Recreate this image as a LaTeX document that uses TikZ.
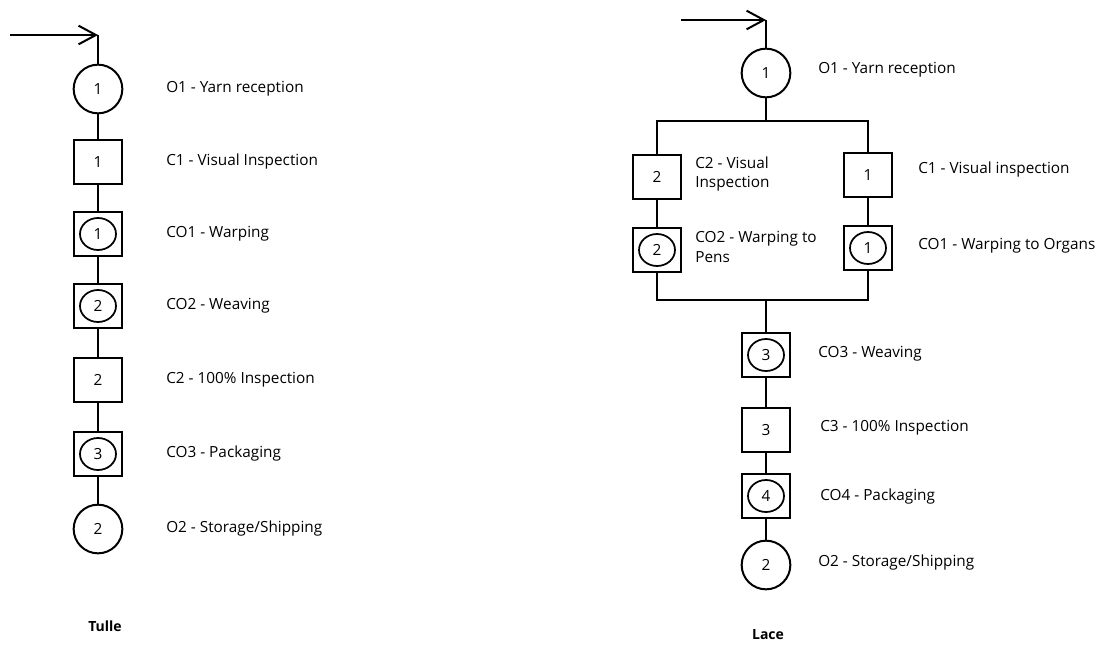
\documentclass[tikz,border=0pt]{standalone}
\usepackage{fontspec}
\setmainfont{Open Sans}
\usetikzlibrary{arrows.meta}
\tikzset{
  flow/.style={line width=1.5pt},
  opcirc/.style={draw, circle, line width=1.5pt, minimum size=36.5pt, inner sep=0pt, font=\fontsize{11.5}{13}\selectfont},
  ctrlbox/.style={draw, rectangle, line width=1.5pt, minimum width=36.5pt, minimum height=32.5pt, inner sep=0pt, font=\fontsize{11.5}{13}\selectfont},
  combo/.style={ctrlbox, path picture={\draw[line width=1.3pt] (path picture bounding box.center) ellipse (13.5pt and 12pt);}},
  steplabel/.style={anchor=west, inner sep=0pt, align=left, font=\fontsize{11.5}{14.5}\selectfont},
  title/.style={inner sep=0pt, font=\fontsize{10.5}{12}\selectfont\bfseries},
  entry/.style={line width=1.5pt, -{Straight Barb[length=13pt,width=14pt,line width=1.5pt]}},
}
\begin{document}
\begin{tikzpicture}[x=0.75pt, y=-0.75pt]
  \fill[white] (0,0) rectangle (1102,646);
  \useasboundingbox (0,0) rectangle (1102,646);

  % Tulle
  \foreach \id/\y/\kind/\num/\txt in {t1/89/opcirc/1/{O1 - Yarn reception},
      t2/162/ctrlbox/1/{C1 - Visual Inspection}, t3/234/combo/1/{CO1 - Warping},
      t4/306/combo/2/{CO2 - Weaving}, t5/380/ctrlbox/2/{C2 - 100\% Inspection},
      t6/454/combo/3/{CO3 - Packaging}, t7/529/opcirc/2/{O2 - Storage/Shipping}} {
    \node[\kind] (\id) at (98,\y) {\num};
    \node[steplabel] (\id-lbl) at (166,\y) {\txt};
  }
  \coordinate (tstart) at (10,35);
  \coordinate (tin) at (98,35);
  \draw[entry] (tstart) -- (tin);
  \draw[flow] (tin) -- (t1);
  \foreach \a/\b in {t1/t2, t2/t3, t3/t4, t4/t5, t5/t6, t6/t7}
    \draw[flow] (\a) -- (\b);
  \node[title] (tulle) at (105,626) {Tulle};

  % Lace
  \node[opcirc] (l1) at (766,73) {1};
  \node[ctrlbox] (lc2) at (657,177) {2};
  \node[combo] (lco2) at (657,250) {2};
  \node[ctrlbox] (lc1) at (868,175) {1};
  \node[combo] (lco1) at (868,248) {1};
  \node[combo] (lco3) at (766,355) {3};
  \node[ctrlbox] (lc3) at (766,430) {3};
  \node[combo] (lco4) at (766,496) {4};
  \node[opcirc] (l2) at (766,565) {2};

  \node[steplabel] (l1-lbl) at (818,70) {O1 - Yarn reception};
  \node[steplabel] (lc2-lbl) at (695,174) {C2 - Visual\\Inspection};
  \node[steplabel] (lco2-lbl) at (695,247) {CO2 - Warping to\\Pens};
  \node[steplabel] (lc1-lbl) at (918,170) {C1 - Visual inspection};
  \node[steplabel] (lco1-lbl) at (918,246) {CO1 - Warping to Organs};
  \node[steplabel] (lco3-lbl) at (818,354) {CO3 - Weaving};
  \node[steplabel] (lc3-lbl) at (820,428) {C3 - 100\% Inspection};
  \node[steplabel] (lco4-lbl) at (820,497) {CO4 - Packaging};
  \node[steplabel] (l2-lbl) at (818,563) {O2 - Storage/Shipping};

  \coordinate (lstart) at (681,20);
  \coordinate (lin) at (766,20);
  \coordinate (lsplit) at (766,121);
  \coordinate (ljoin) at (766,300);
  \draw[entry] (lstart) -- (lin);
  \draw[flow] (lin) -- (l1);
  \draw[flow] (l1) -- (lsplit);
  \draw[flow] (lc2) |- (lsplit) -| (lc1);
  \draw[flow] (lc2) -- (lco2);
  \draw[flow] (lc1) -- (lco1);
  \draw[flow] (lco2) |- (ljoin) -| (lco1);
  \foreach \a/\b in {ljoin/lco3, lco3/lc3, lc3/lco4, lco4/l2}
    \draw[flow] (\a) -- (\b);
  \node[title] (lace) at (768,635) {Lace};
\end{tikzpicture}
\end{document}
